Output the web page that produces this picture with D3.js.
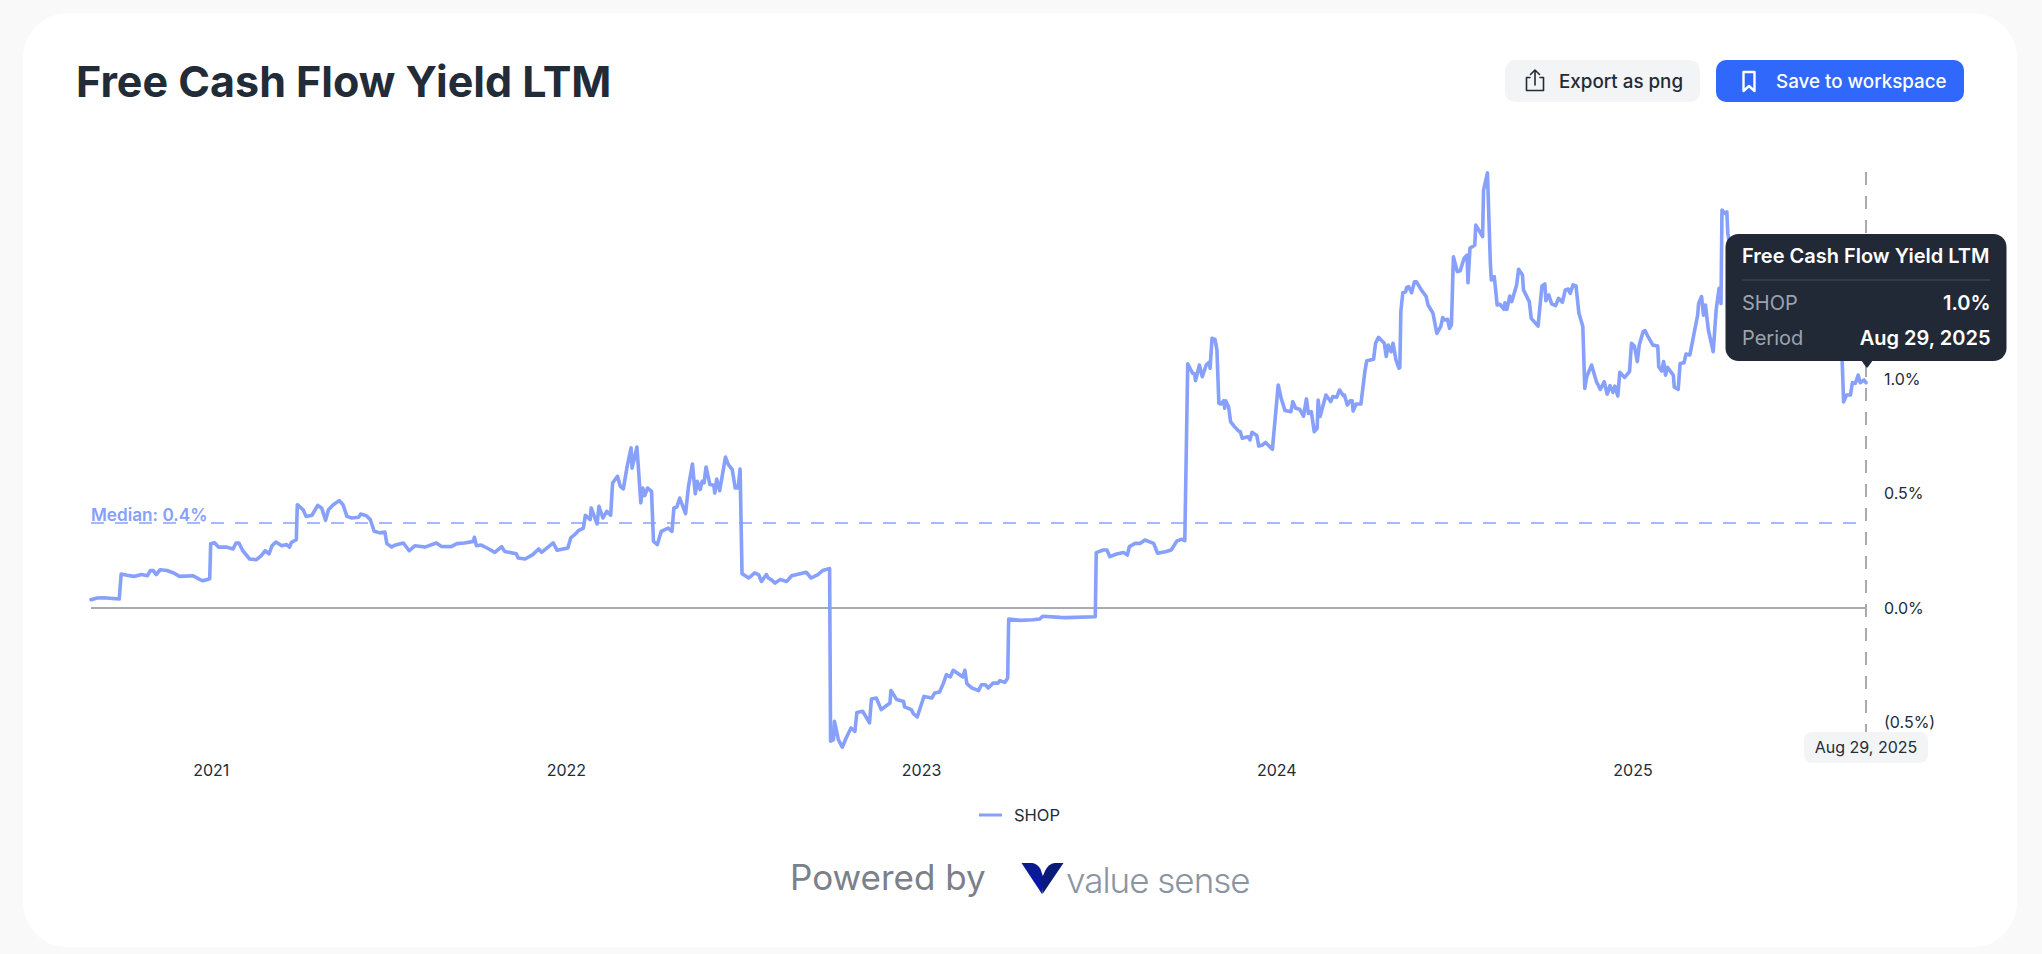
<!DOCTYPE html>
<html><head><meta charset="utf-8">
<script src="https://cdn.jsdelivr.net/npm/d3@7"></script>
<style>
html,body{margin:0;padding:0;background:#f9f9f9;overflow:hidden}
svg{display:block}
text{font-family:Inter,"Noto Sans",sans-serif}
</style></head><body><div id="chart"></div>
<script>
const chartTitle = "Free Cash Flow Yield LTM";
const seriesName = "SHOP";
const startDate = "2020-08-31";
const endDate = "2025-08-29";
const yearTicks = ["2021-01-01","2022-01-01","2023-01-01","2024-01-01","2025-01-01"];
const yieldTicks = [-0.5, 0, 0.5, 1];
const medianValue = 0.371;
const medianLabel = "Median: 0.4%";
const tooltipRows = [["SHOP","1.0%"],["Period","Aug 29, 2025"]];
// [days since start, FCF yield %]
const shopPoints = [
[0,.036],[6,.044],[13,.045],[29,.039],[31,.148],[37,.143],[44,.138],[52,.146],[58,.141],[61,.163],[64,.163],[67,.146],[71,.167],[78,.164],[85,.153],[91,.138],[105,.141],[112,.124],[115,.119],[122,.128],[123,.281],[127,.285],[131,.266],[139,.266],[146,.258],[149,.284],[152,.284],[156,.25],[163,.214],[170,.211],[175,.229],[179,.25],[183,.236],[186,.272],[190,.288],[196,.272],[201,.277],[204,.266],[206,.287],[211,.298],[212,.451],[218,.429],[221,.40],[227,.405],[233,.448],[237,.437],[241,.383],[244,.429],[249,.451],[255,.469],[259,.451],[263,.40],[268,.393],[275,.396],[277,.41],[283,.403],[287,.386],[291,.335],[297,.328],[302,.332],[304,.281],[309,.266],[312,.274],[321,.284],[327,.25],[333,.272],[343,.266],[355,.284],[360,.269],[370,.268],[376,.281],[384,.284],[393,.291],[394,.309],[396,.272],[401,.275],[407,.262],[415,.243],[422,.268],[425,.247],[437,.237],[439,.218],[446,.214],[454,.233],[460,.258],[463,.243],[475,.284],[479,.252],[490,.262],[493,.306],[497,.32],[501,.338],
[506,.349],[508,.405],[513,.386],[514,.437],[520,.367],[522,.444],[526,.393],[530,.422],[534,.405],[536,.546],[541,.575],[544,.531],[547,.52],[551,.619],[555,.699],[556,.611],[561,.703],[565,.459],[567,.524],[569,.491],[572,.524],[576,.509],[578,.291],[582,.277],[586,.335],[593,.349],[597,.335],[599,.437],[602,.441],[605,.48],[611,.412],[614,.531],[618,.629],[621,.499],[623,.553],[626,.517],[628,.553],[630,.546],[632,.616],[636,.539],[640,.536],[641,.502],[643,.563],[646,.512],[652,.659],[655,.626],[659,.604],[662,.524],[665,.524],[667,.607],[669,.15],[676,.131],[682,.153],[686,.146],[689,.116],[694,.146],[696,.131],[699,.124],[703,.109],[708,.124],[715,.116],[720,.141],[735,.156],[740,.131],[747,.146],[752,.164],[759,.172],[760,-.582],[763,-.575],[764,-.495],[768,-.575],[772,-.608],[776,-.568],[781,-.524],[785,-.539],[787,-.456],[793,-.451],[797,-.48],[800,-.502],[802,-.397],[807,-.393],[812,-.444],[821,-.415],[822,-.36],[828,-.40],[835,-.408],[836,-.432],[843,-.444],[845,-.461],[849,-.476],[856,-.386],[864,-.393],[867,-.371],[872,-.367],[876,-.328],[879,-.291],[883,-.301],[886,-.272],[896,-.301],[898,-.272],[900,-.33],[905,-.349],[912,-.361],[915,-.335],[919,-.335],[922,-.349],[927,-.328],[932,-.328],[934,-.317],[939,-.325],[942,-.306],[943,-.048],[955,-.054],[968,-.051],[975,-.048],[978,-.036],[996,-.041],[1002,-.042],[1032,-.038],
[1033,.242],[1040,.253],[1044,.253],[1047,.224],[1054,.236],[1061,.242],[1065,.231],[1067,.268],[1073,.282],[1078,.282],[1083,.297],[1092,.282],[1096,.239],[1104,.246],[1110,.253],[1116,.293],[1121,.30],[1124,.294],
[1127,1.066],[1132,1.025],[1134,1.022],[1135,.993],[1139,1.061],[1142,1.01],[1146,1.061],[1149,1.073],[1150,1.047],[1152,1.178],[1155,1.173],[1157,1.127],[1159,.894],[1161,.891],[1164,.905],[1165,.872],[1166,.905],[1169,.879],[1171,.814],[1175,.792],[1179,.774],[1181,.77],[1183,.741],[1189,.748],[1191,.734],[1193,.767],[1198,.753],[1200,.707],[1204,.712],[1207,.723],[1214,.693],[1220,.974],[1223,.916],[1227,.862],[1233,.857],[1235,.901],[1238,.872],[1242,.868],[1246,.838],[1249,.913],[1251,.85],[1254,.857],[1257,.77],[1260,.785],[1261,.908],[1263,.836],[1269,.93],[1274,.901],[1276,.923],[1280,.92],[1283,.952],[1287,.927],[1288,.93],[1291,.886],[1294,.905],[1296,.905],[1297,.86],[1300,.891],[1305,.891],[1309,1.032],[1311,1.08],[1318,1.086],[1320,1.156],[1323,1.182],[1329,1.156],[1331,1.098],[1333,1.148],[1336,1.119],[1338,1.156],[1341,1.083],[1344,1.047],[1345,1.051],[1346,1.294],[1348,1.377],[1351,1.381],[1352,1.40],[1354,1.403],[1357,1.377],[1360,1.425],[1362,1.425],[1367,1.389],[1372,1.36],[1374,1.323],[1379,1.287],[1383,1.199],[1387,1.229],[1389,1.268],[1391,1.258],[1394,1.261],[1396,1.221],[1398,1.236],[1400,1.534],[1404,1.469],[1407,1.473],[1411,1.527],[1414,1.541],[1415,1.421],[1417,1.571],[1422,1.585],[1423,1.672],[1426,1.651],[1430,1.622],[1431,1.825],[1435,1.90],[1438,1.505],
[1439,1.432],[1442,1.447],[1445,1.323],[1448,1.326],[1452,1.304],[1453,1.333],[1455,1.304],[1458,1.362],[1460,1.338],[1465,1.411],[1467,1.479],[1471,1.454],[1472,1.389],[1478,1.338],[1480,1.265],[1487,1.231],[1491,1.406],[1494,1.415],[1495,1.342],[1498,1.367],[1501,1.328],[1505,1.32],[1508,1.352],[1512,1.335],[1515,1.389],[1518,1.393],[1520,1.374],[1523,1.411],[1526,1.406],[1529,1.287],[1533,1.229],[1535,.959],[1537,1.01],[1542,1.061],[1547,.988],[1551,.955],[1555,.988],[1558,.934],[1561,.971],[1564,.942],[1566,.969],[1569,.926],[1571,1.029],[1576,1.007],[1581,1.032],[1583,1.156],[1586,1.144],[1589,1.076],[1591,1.148],[1595,1.207],[1597,1.211],[1600,1.185],[1605,1.148],[1610,1.144],[1611,1.054],[1614,1.035],[1616,1.076],[1618,1.017],[1620,1.051],[1626,1.017],[1627,.964],[1631,.955],[1633,1.068],
[1637,1.071],[1639,1.109],[1643,1.105],[1646,1.17],[1648,1.214],[1651,1.279],[1652,1.33],[1655,1.36],[1657,1.279],[1659,1.323],[1662,1.214],[1667,1.119],[1670,1.301],[1673,1.396],[1675,1.33],[1676,1.738],[1679,1.723],[1681,1.73],[1682,1.636],
[1686,1.52],[1690,1.43],[1696,1.38],[1703,1.44],[1710,1.40],[1718,1.33],[1726,1.36],[1734,1.30],[1742,1.27],[1750,1.31],[1758,1.25],[1766,1.22],[1775,1.26],[1784,1.20],[1792,1.17],[1799,1.14],
[1801,.90],[1804,.93],[1808,.93],[1810,.984],[1813,.981],[1816,1.017],[1818,.984],[1822,.996],[1824,.984]
];

const W=2042,H=954;
const LINE="#86a0fb", INK="#222b38", MEDIAN="#a6b8fb", GRID="#a9abb0", DARK="#222936";
const parse=d3.utcParse("%Y-%m-%d"), start=parse(startDate), end=parse(endDate);
const x=d3.scaleUtc().domain([start,end]).range([91,1866]);
const y=d3.scaleLinear().domain([-0.5,1]).range([722.5,379]);
const pctFmt=v=>v<0?`(${Math.abs(v).toFixed(1)}%)`:`${v.toFixed(1)}%`;

const svg=d3.select("#chart").append("svg").attr("width",W).attr("height",H).attr("viewBox",`0 0 ${W} ${H}`);
svg.append("rect").attr("width",W).attr("height",H).attr("fill","#f9f9f9");
svg.append("rect").attr("x",23).attr("y",13.5).attr("width",1994).attr("height",933.5).attr("rx",44).attr("fill","#fff");

svg.append("text").text(chartTitle).attr("x",76).attr("y",97).attr("font-size",43).attr("font-weight",700).attr("fill",INK);

// buttons
function btn(x0,x1,fill,label,tx,color){
  svg.append("rect").attr("x",x0).attr("y",60).attr("width",x1-x0).attr("height",42).attr("rx",10).attr("fill",fill);
  svg.append("text").text(label).attr("x",tx).attr("y",87.5).attr("font-size",18.8).attr("font-weight",500).attr("fill",color);
}
btn(1505,1700,"#f3f4f6","Export as png",1559,"#222b38");
btn(1716,1964,"#2f68fb","Save to workspace",1776,"#fff");
svg.append("path").attr("d","M1530,77.5h-3.5v13h17v-13h-3.5M1535,85v-14.5M1530.5,74.5l4.5-4.5l4.5,4.5").attr("fill","none").attr("stroke",INK).attr("stroke-width",1.6).attr("stroke-linecap","round").attr("stroke-linejoin","round");
svg.append("path").attr("d","M1743.5,72h11v19l-5.5-5l-5.5,5z").attr("fill","none").attr("stroke","#fff").attr("stroke-width",2.4).attr("stroke-linejoin","round");

// axes
const yAxis=d3.axisRight(y).tickValues(yieldTicks).tickSize(0).tickPadding(0).tickFormat(pctFmt);
svg.append("g").attr("transform","translate(1884,0)").call(yAxis).call(g=>g.select(".domain").remove())
  .selectAll("text").attr("font-size",16).attr("fill",INK).attr("font-family","Inter");
const xAxis=d3.axisBottom(x).tickValues(yearTicks.map(parse)).tickSize(0).tickPadding(0).tickFormat(d3.utcFormat("%Y"));
svg.append("g").attr("transform","translate(0,765)").call(xAxis).call(g=>g.select(".domain").remove())
  .selectAll("text").attr("font-size",16).attr("fill",INK).attr("font-family","Inter");

// zero + median + crosshair
svg.append("line").attr("x1",x(start)).attr("x2",x(end)).attr("y1",y(0)).attr("y2",y(0)).attr("stroke",GRID).attr("stroke-width",2);
svg.append("line").attr("x1",x(start)).attr("x2",x(end)).attr("y1",y(medianValue)).attr("y2",y(medianValue)).attr("stroke",MEDIAN).attr("stroke-width",2).attr("stroke-dasharray","13 11");
svg.append("text").text(medianLabel).attr("x",x(start)).attr("y",520.5).attr("font-size",17.2).attr("font-weight",600).attr("fill",LINE);
svg.append("line").attr("x1",x(end)).attr("x2",x(end)).attr("y1",172).attr("y2",733).attr("stroke",GRID).attr("stroke-width",2).attr("stroke-dasharray","13 11");

// series
const line=d3.line().x(d=>x(d3.utcDay.offset(start,d[0]))).y(d=>y(d[1]));
svg.append("path").datum(shopPoints).attr("d",line).attr("fill","none").attr("stroke",LINE).attr("stroke-width",3.6).attr("stroke-linejoin","round").attr("stroke-linecap","round");

// date pill
svg.append("rect").attr("x",1804).attr("y",732).attr("width",124).attr("height",31).attr("rx",8).attr("fill","#f3f4f6");
svg.append("text").text(tooltipRows[1][1]).attr("x",x(end)).attr("y",753).attr("text-anchor","middle").attr("font-size",16).attr("fill",INK);

// tooltip
svg.append("rect").attr("x",1725.5).attr("y",234).attr("width",281).attr("height",127).attr("rx",13).attr("fill",DARK);
svg.append("path").attr("d","M1861,360h12l-5,7q-1,1-2,0z").attr("fill",DARK);
svg.append("text").text(chartTitle).attr("x",1742).attr("y",263).attr("font-size",20).attr("font-weight",600).attr("fill","#fff");
svg.append("line").attr("x1",1742).attr("x2",1990.5).attr("y1",280).attr("y2",280).attr("stroke","#3a404d").attr("stroke-width",1.5);
tooltipRows.forEach((r,i)=>{
  const by=310+i*34.5;
  svg.append("text").text(r[0]).attr("x",1742).attr("y",by).attr("font-size",20).attr("fill","#9ca3af");
  svg.append("text").text(r[1]).attr("x",1990.5).attr("y",by).attr("text-anchor","end").attr("font-size",20).attr("font-weight",600).attr("fill","#fff");
});

// legend
svg.append("line").attr("x1",979).attr("x2",1002).attr("y1",815).attr("y2",815).attr("stroke",LINE).attr("stroke-width",3);
svg.append("text").text(seriesName).attr("x",1014).attr("y",821).attr("font-size",16.5).attr("fill",INK);

// footer
svg.append("text").text("Powered by").attr("x",790).attr("y",890).attr("font-size",35).attr("font-weight",400).attr("fill","#7b8089");
const grad=svg.append("defs").append("linearGradient").attr("id","v1").attr("x1",0).attr("y1",0).attr("x2",0).attr("y2",1);
grad.append("stop").attr("offset",0).attr("stop-color","#0b1c86");
grad.append("stop").attr("offset",1).attr("stop-color","#0814c0");
svg.append("path").attr("d","M1021.5,863h11q5,1,8,6l3,9l-1.5,16z").attr("fill","url(#v1)");
svg.append("path").attr("d","M1063.5,863h-9q-6,1,-9,7l-4,9l1,15z").attr("fill","#0a1a78");
svg.append("text").text("value sense").attr("x",1066).attr("y",893).attr("font-size",35).attr("font-weight",300).attr("letter-spacing",-1).attr("fill","#8a94a3");
</script></body></html>
